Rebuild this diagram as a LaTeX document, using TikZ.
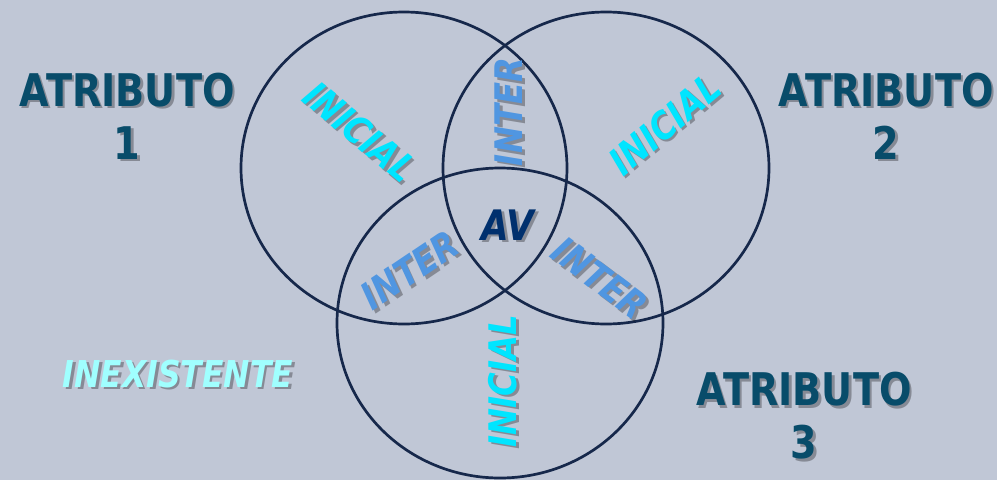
\documentclass[tikz,border=0pt]{standalone}
\usepackage{fontspec}
\setmainfont{DejaVu Sans}[FakeStretch=0.85]
\usepackage{tikz}
\usetikzlibrary{calc}

\definecolor{bgblue}{RGB}{192,199,214}
\definecolor{ringnavy}{RGB}{22,40,75}
\definecolor{attrteal}{RGB}{8,76,106}
\definecolor{iniccyan}{RGB}{0,229,255}
\definecolor{interblue}{RGB}{80,150,225}
\definecolor{avnavy}{RGB}{0,48,110}
\definecolor{inexcyan}{RGB}{160,255,255}

% label with a soft drop shadow: name, position, angle, style, text
\newcommand{\shlabel}[5]{%
  \node[#4, shadowtxt, rotate=#3] (#1s) at ($(#2)+(2.5,2.5)$) {#5};
  \node[#4, rotate=#3] (#1) at (#2) {#5};}

\begin{document}
\begin{tikzpicture}[x=1pt,y=-1pt,
    ring/.style={draw=ringnavy,line width=2.7pt},
    attr/.style={inner sep=0pt,align=center,text=attrteal,
                 font=\fontsize{45}{53}\selectfont\bfseries},
    inicial/.style={inner sep=0pt,text=iniccyan,
                 font=\fontsize{38}{42}\selectfont\bfseries\itshape},
    inter/.style={inner sep=0pt,text=interblue,
                 font=\fontsize{38}{42}\selectfont\bfseries\itshape},
    av/.style={inner sep=0pt,text=avnavy,
                 font=\fontsize{42}{46}\selectfont\bfseries\itshape},
    inex/.style={inner sep=0pt,text=inexcyan,
                 font=\fontsize{37}{40}\selectfont\bfseries\itshape},
    shadowtxt/.style={text=black,text opacity=0.3}]
  %Background
  \fill[bgblue] (0,0) rectangle (997,480);
  \useasboundingbox (0,0) rectangle (997,480);

  %Circles
  \coordinate (c1) at (404,168);
  \coordinate (c2) at (606,168);
  \coordinate (c3) at (500,323);
  \draw[ring] (c1) ellipse [x radius=163, y radius=156];
  \draw[ring] (c2) ellipse [x radius=163, y radius=156];
  \draw[ring] (c3) ellipse [x radius=163, y radius=155];

  %Attributes
  \coordinate (p1) at (127,116);
  \coordinate (p2) at (886,116);
  \coordinate (p3) at (804,416);
  \shlabel{attr1}{p1}{0}{attr}{ATRIBUTO\\1}
  \shlabel{attr2}{p2}{0}{attr}{ATRIBUTO\\2}
  \shlabel{attr3}{p3}{0}{attr}{ATRIBUTO\\3}

  %Regions
  \coordinate (i1) at (360,132);
  \coordinate (i2) at (665,124);
  \coordinate (i3) at (503,381);
  \coordinate (t12) at (509,112);
  \coordinate (t13) at (410,270);
  \coordinate (t23) at (600,278);
  \coordinate (cv) at (508,225);
  \coordinate (ex) at (178,374);
  \shlabel{ini1}{i1}{-40}{inicial}{INICIAL}
  \shlabel{ini2}{i2}{40}{inicial}{INICIAL}
  \shlabel{ini3}{i3}{90}{inicial}{INICIAL}
  \shlabel{int12}{t12}{90}{inter}{INTER}
  \shlabel{int13}{t13}{34}{inter}{INTER}
  \shlabel{int23}{t23}{-37}{inter}{INTER}
  \shlabel{avc}{cv}{0}{av}{AV}
  \shlabel{inex}{ex}{0}{inex}{INEXISTENTE}
\end{tikzpicture}
\end{document}
